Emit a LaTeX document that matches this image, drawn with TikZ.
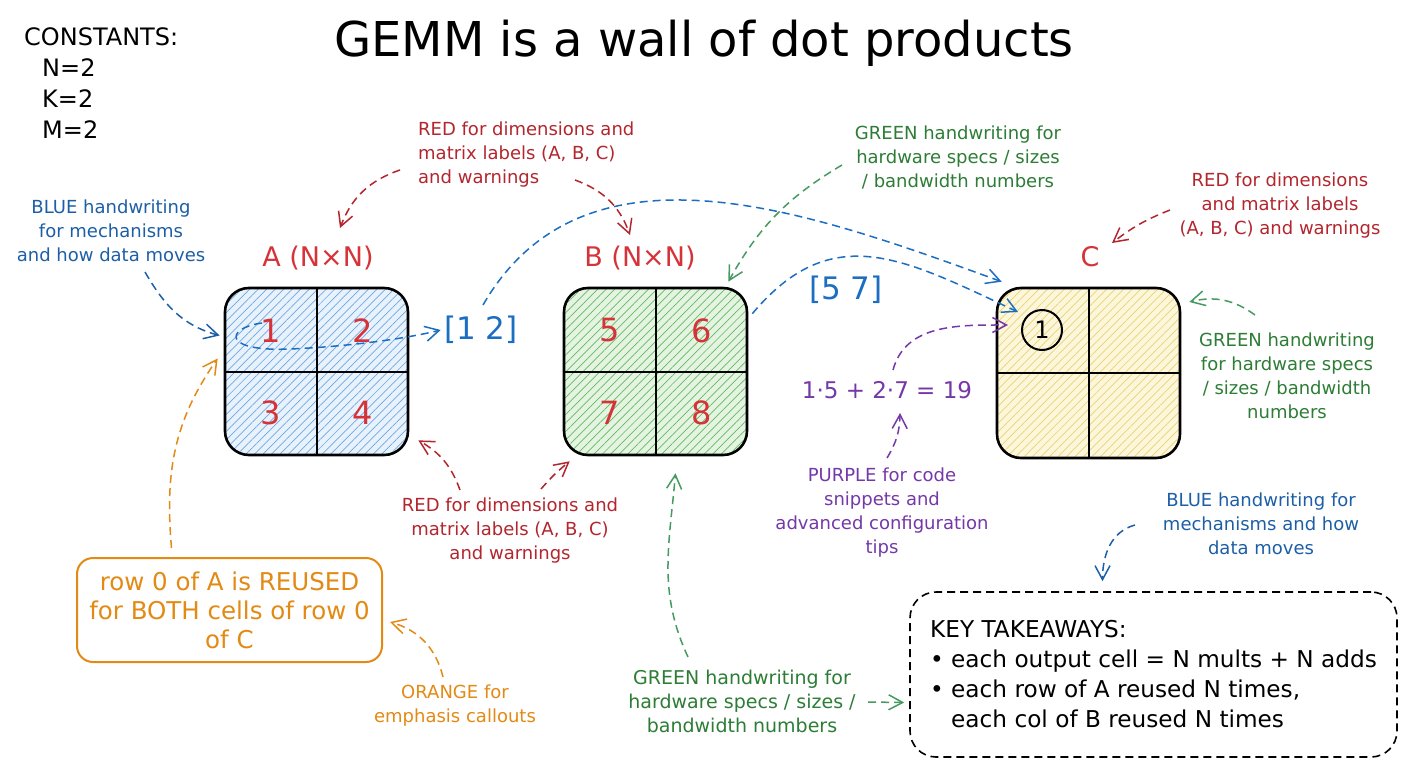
\documentclass[tikz,border=0pt]{standalone}
\usepackage{fontspec}
\setmainfont{DejaVu Sans}
\usetikzlibrary{arrows.meta,calc,patterns.meta}

\definecolor{notered}{HTML}{B3262E}
\definecolor{labred}{HTML}{D63339}
\definecolor{noteblue}{HTML}{1D5FA6}
\definecolor{datablue}{HTML}{1C6EC2}
\definecolor{notegreen}{HTML}{2D7D36}
\definecolor{linkgreen}{HTML}{469A62}
\definecolor{notepurple}{HTML}{7438A8}
\definecolor{noteorange}{HTML}{E38A14}
\definecolor{fillA}{HTML}{E8F2FC}
\definecolor{hatchA}{HTML}{6FA8DE}
\definecolor{fillB}{HTML}{E4F4E1}
\definecolor{hatchB}{HTML}{63B866}
\definecolor{fillC}{HTML}{FCF6DA}
\definecolor{hatchC}{HTML}{EBD273}

\newcommand{\fsz}[2]{\fontsize{#1}{#2}\selectfont}

\tikzset{
  note/.style={align=center, inner sep=1pt, font=\fsz{18}{24}},
  link/.style={->, line width=1.5pt, dash pattern=on 8pt off 5pt},
  mat/.style={draw, line width=2.6pt, rounded corners=24pt, minimum width=183pt, inner sep=0pt},
  digit/.style={text=labred, font=\fsz{32}{32}},
  mlabel/.style={text=labred, font=\fsz{27}{27}},
}

\begin{document}
\begin{tikzpicture}[x=1pt,y=-1pt,>={Straight Barb[length=14pt,width=15pt]}]
\useasboundingbox (0,0) rectangle (1408,768);
\fill[white] (0,0) rectangle (1408,768);

% ---- title and constants ----
\node[font=\fsz{48}{56}] (title) at (704,43) {GEMM is a wall of dot products};
\node[anchor=north west, align=left, inner sep=0pt, font=\fsz{24}{31}] (consts) at (24,27)
  {CONSTANTS:\\\hspace*{18pt}N=2\\\hspace*{18pt}K=2\\\hspace*{18pt}M=2};

% ---- the three matrices ----
\foreach \m/\px/\py/\h/\fc/\hc in {A/316.5/371.5/167/fillA/hatchA, B/655.5/371.5/167/fillB/hatchB, C/1088.5/373/170/fillC/hatchC}{
  \node[mat, minimum height=\h pt, preaction={fill=\fc},
        pattern={Lines[angle=45,distance=6pt,line width=0.7pt]}, pattern color=\hc] (mat\m) at (\px,\py) {};
  \draw[line width=2pt] (mat\m.north) -- (mat\m.south) (mat\m.west) -- (mat\m.east);
}
\foreach \m/\ea/\eb/\ec/\ed in {A/1/2/3/4, B/5/6/7/8}{
  \node[digit] (cell\ea) at ($(mat\m)+(-46,-41)$) {\ea};
  \node[digit] (cell\eb) at ($(mat\m)+(46,-41)$) {\eb};
  \node[digit] (cell\ec) at ($(mat\m)+(-46,41)$) {\ec};
  \node[digit] (cell\ed) at ($(mat\m)+(46,41)$) {\ed};
}
\node[draw, circle, line width=2pt, minimum size=40pt, inner sep=0pt, font=\fsz{24}{24}] (outC) at (1042,330) {1};

\node[mlabel] (labA) at (318,258) {A (N×N)};
\node[mlabel] (labB) at (640,258) {B (N×N)};
\node[mlabel] (labC) at (1090,257) {C};

% ---- data on the move ----
\node[text=datablue, font=\fsz{31}{31}] (rowA) at (481,330) {[1 2]};
\node[text=datablue, font=\fsz{31}{31}] (colB) at (846,290) {[5 7]};
\node[text=notepurple, font=\fsz{23}{23}] (dotp) at (887,390) {1·5 + 2·7 = 19};

% ---- notes ----
\node[note, text=notered, align=left, anchor=north west] (redTop) at (417,121)
  {RED for dimensions and\\matrix labels (A, B, C)\\and warnings};
\node[note, text=noteblue] (blueLeft) at (111,231) {BLUE handwriting\\for mechanisms\\and how data moves};
\node[note, text=notegreen] (greenTop) at (958,157) {GREEN handwriting for\\hardware specs / sizes\\/ bandwidth numbers};
\node[note, text=notered] (redRight) at (1280,206) {RED for dimensions\\and matrix labels\\(A, B, C) and warnings};
\node[note, text=notegreen] (greenRight) at (1287,376) {GREEN handwriting\\for hardware specs\\/ sizes / bandwidth\\numbers};
\node[note, text=notered] (redBot) at (510,531) {RED for dimensions and\\matrix labels (A, B, C)\\and warnings};
\node[note, text=noteorange] (orangeNote) at (455,706) {ORANGE for\\emphasis callouts};
\node[note, text=notepurple] (purpleNote) at (882,513) {PURPLE for code\\snippets and\\advanced configuration\\tips};
\node[note, text=notegreen, font=\fsz{19}{24}] (greenBot) at (742,701) {GREEN handwriting for\\hardware specs / sizes /\\bandwidth numbers};
\node[note, text=noteblue] (blueRight) at (1261,524) {BLUE handwriting for\\mechanisms and how\\data moves};

\node[draw=noteorange, line width=2pt, rounded corners=16pt, minimum width=305pt, minimum height=104pt,
      text=noteorange, align=center, font=\fsz{24.5}{29}] (reuse) at (229.5,610)
  {row 0 of A is REUSED\\for BOTH cells of row 0\\of C};

\node[draw, dash pattern=on 8pt off 5pt, line width=1.6pt, rounded corners=26pt, minimum width=487pt,
      minimum height=165pt, inner sep=8pt, align=left, font=\fsz{23.2}{30}] (keys) at (1153.5,674.5)
  {KEY TAKEAWAYS:\\\textbullet\ each output cell = N mults + N adds\\\textbullet\ each row of A reused N times,\\\phantom{\textbullet\ }each col of B reused N times};

% ---- red callouts ----
\draw[link, notered] ($(redTop.north west)+(-17,49)$) to[bend right=25] ($(labA)+(22,-30)$);
\draw[link, notered] ($(redTop.north west)+(158,59)$) to[bend left=25] ($(labB)+(-10,-23)$);
\draw[link, notered] ($(redRight)+(-110,4)$) to[bend right=8] ($(labC)+(22,-14)$);
\draw[link, notered] ($(redBot)+(-50,-41)$) to[bend right=20] ($(matA.south east)+(10,-15)$);
\draw[link, notered] ($(redBot)+(31,-42)$) to[bend left=5] ($(matB.south west)+(7,5)$);

% ---- blue: mechanisms and data flow ----
\draw[link, noteblue] ($(blueLeft)+(34,41)$) to[out=-60,in=165] ($(matA.west)+(-5,-36)$);
\draw[link, noteblue] ($(blueRight)+(-126,1)$) to[out=195,in=90] ($(keys.north)+(-51,-10)$);
\coordinate (loopStart) at (262,323);
\draw[link, datablue] (loopStart) .. controls (225,328) and (222,352) .. (290,349)
  .. controls (340,347) and (400,340) .. (rowA.west);
\draw[link, datablue] ($(rowA)+(2,-25)$) to[out=60,in=160] ($(matC.north west)+(6,-5)$);
\draw[link, datablue] ($(matB.north east)+(4,27)$) to[out=50,in=155,looseness=1.2] ($(outC)+(-24,-18)$);

% ---- green callouts ----
\draw[link, linkgreen] ($(greenTop)+(-116,8)$) to[bend right=15] ($(matB.north east)+(-20,-5)$);
\draw[link, linkgreen] ($(greenRight)+(-32,-61)$) to[bend right=25] ($(matC.east)+(8,-71)$);
\draw[link, linkgreen] ($(greenBot)+(-54,-44)$) to[out=115,in=-95] ($(matB.south)+(20,17)$);
\draw[link, linkgreen] ($(greenBot)+(126,1)$) -- ($(keys.west)+(-5,28)$);

% ---- orange and purple ----
\draw[link, noteorange] ($(reuse)+(-58,-62)$) to[out=95,in=235] ($(matA.west)+(-7,-13)$);
\draw[link, noteorange] ($(orangeNote)+(-12,-29)$) to[bend right=30] ($(reuse.east)+(7,12)$);
\draw[link, notepurple] ($(purpleNote)+(5,-55)$) to[bend right=15] ($(dotp)+(13,23)$);
\draw[link, notepurple] ($(dotp)+(6,-20)$) to[out=75,in=180] ($(outC)+(-34,-5)$);
\end{tikzpicture}
\end{document}
